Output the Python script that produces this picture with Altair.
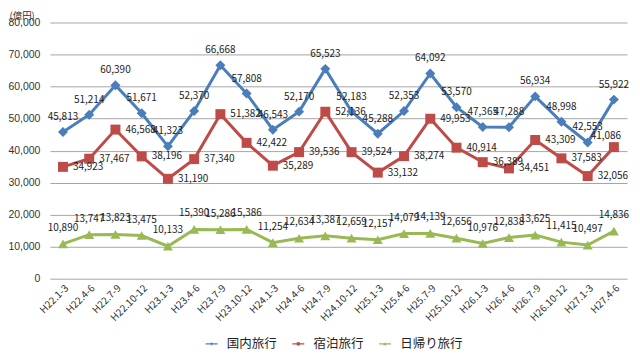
import altair as alt
import pandas as pd

categories = ["H22.1-3", "H22.4-6", "H22.7-9", "H22.10-12", "H23.1-3", "H23.4-6", "H23.7-9", "H23.10-12",
              "H24.1-3", "H24.4-6", "H24.7-9", "H24.10-12", "H25.1-3", "H25.4-6", "H25.7-9", "H25.10-12",
              "H26.1-3", "H26.4-6", "H26.7-9", "H26.10-12", "H27.1-3", "H27.4-6"]
domestic = [45813, 51214, 60390, 51671, 41323, 52370, 66668, 57808, 46543, 52170, 65523,
            52183, 45288, 52353, 64092, 53570, 47365, 47288, 56934, 48998, 42553, 55922]
overnight = [34923, 37467, 46568, 38196, 31190, 37340, 51382, 42422, 35289, 39536, 52136,
             39524, 33132, 38274, 49953, 40914, 36389, 34451, 43309, 37583, 32056, 41086]
daytrip = [10890, 13747, 13823, 13475, 10133, 15390, 15286, 15386, 11254, 12634, 13387,
           12659, 12157, 14079, 14139, 12656, 10976, 12838, 13625, 11415, 10497, 14836]
series_names = ["国内旅行", "宿泊旅行", "日帰り旅行"]
colors = ["#4A7EBB", "#BE4B48", "#98B954"]
y_ticks = [0, 10000, 20000, 30000, 40000, 50000, 60000, 70000, 80000]

rows = []
for name, vals in zip(series_names, [domestic, overnight, daytrip]):
    for c, v in zip(categories, vals):
        rows.append({"period": c, "series": name, "value": v})
df = pd.DataFrame(rows)

FONT = "Noto Sans CJK JP"
last_cat = categories[-1]

x = alt.X("period:N", sort=categories, scale=alt.Scale(type="point", padding=0.5),
          axis=alt.Axis(title=None, labelAngle=-45, labelAlign="right", labelBaseline="top",
                        labelFontSize=10, labelColor="#333333", labelPadding=4,
                        ticks=False, domain=False, grid=False, labelFont=FONT))
y = alt.Y("value:Q", scale=alt.Scale(domain=[0, 80000], nice=False),
          axis=alt.Axis(title="(億円)", titleAngle=0, titleX=-41, titleY=-7.5, titleAlign="left",
                        titleBaseline="middle", titleFontSize=9.5, titleFontWeight="normal",
                        titleColor="#333333", titleFont=FONT,
                        values=y_ticks, labelExpr="format(datum.value, ',')",
                        labelFontSize=10.5, labelColor="#333333",
                        labelFont="Liberation Sans", labelPadding=10, ticks=False, domain=False,
                        grid=True, gridColor="#A6A6A6", gridWidth=1))
color = alt.Color("series:N", scale=alt.Scale(domain=series_names, range=colors), legend=None)

base = alt.Chart(df)

lines = base.mark_line(strokeWidth=3).encode(x=x, y=y, color=color, detail="series:N")
points = base.mark_point(filled=True, opacity=1, size=100).encode(
    x=x, y=y, color=color,
    shape=alt.Shape("series:N", scale=alt.Scale(domain=series_names,
                                                range=["diamond", "square", "triangle-up"]),
                    legend=None))

def labels(name, extra=None, **kw):
    c = base.transform_filter(alt.datum.series == name)
    if extra is not None:
        c = c.transform_filter(extra)
    return c.mark_text(fontSize=10, color="#222222", font=FONT, **kw).encode(
        x=x, y=y, text=alt.Text("value:Q", format=","))

lab_blue = labels("国内旅行", dy=-15)
lab_red = labels("宿泊旅行", extra=alt.datum.period != last_cat, align="left", dx=10, dy=0)
lab_red_last = labels("宿泊旅行", extra=alt.datum.period == last_cat, dx=-8, dy=-11)
lab_green = labels("日帰り旅行", dy=-16)

legend_paths = [
    "M-1.5,-0.18H1.5V0.18H-1.5Z M0,-0.42L0.42,0L0,0.42L-0.42,0Z",
    "M-1.5,-0.18H1.5V0.18H-1.5Z M-0.4,-0.4H0.4V0.4H-0.4Z",
    "M-1.5,-0.18H1.5V0.18H-1.5Z M0,-0.45L0.45,0.35H-0.45Z",
]
leg = dict(title=None, orient="none", direction="horizontal",
           legendX=156, legendY=316, labelFontSize=12.5, labelFont=FONT,
           labelColor="#222222", symbolSize=64, symbolStrokeWidth=0,
           labelOffset=9, columnPadding=15)
legend_layer = base.transform_filter("false").mark_point(filled=True, opacity=1).encode(
    x=x, y=y,
    fill=alt.Fill("series:N", scale=alt.Scale(domain=series_names, range=colors),
                  legend=alt.Legend(**leg)),
    shape=alt.Shape("series:N", scale=alt.Scale(domain=series_names, range=legend_paths),
                    legend=alt.Legend(**leg)),
)

chart = alt.layer(lines, points, lab_blue, lab_red, lab_red_last, lab_green, legend_layer).resolve_scale(
    shape="independent", fill="independent"
).properties(
    width=579, height=257,
    autosize=alt.AutoSizeParams(type="none"),
    padding={"left": 42, "top": 14, "right": 5, "bottom": 80},
    background="white",
).configure_view(stroke=None)

chart.save("out.html", embed_options={"renderer": "svg", "actions": False})
